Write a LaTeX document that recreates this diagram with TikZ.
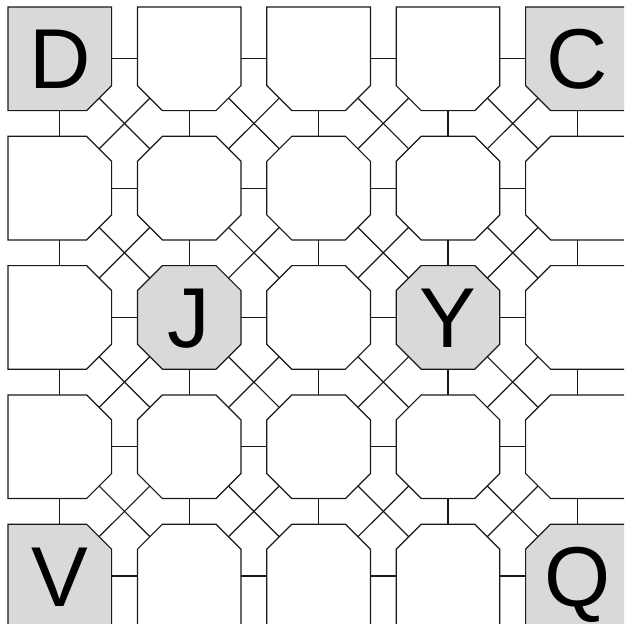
\documentclass[tikz,border=0pt]{standalone}
\usepackage{fontspec}
\setmainfont{Liberation Sans}
\usetikzlibrary{calc}
\begin{document}
\begin{tikzpicture}[x=1pt,y=-1pt,
  link/.style={draw=black!90,line width=1.2pt},
  cellbox/.style={draw=black!90,line width=1.2pt,fill=white,line join=miter},
  markcell/.style={cellbox,fill=gray!30},
  letter/.style={font=\fontsize{85}{85}\selectfont,anchor=base,inner sep=0pt,text=black}]
\useasboundingbox (0,0) rectangle (624,624);
\clip (0,0) rectangle (624,624);
\def\hh{51.8}
\def\cc{25}
% centre coordinates
\foreach \i in {0,...,4}{
  \foreach \j in {0,...,4}{
    \coordinate (p-\i-\j) at ({59.8+129.4*\i},{58.8+129.3*\j});
  }
}
% connectors (orthogonal)
\foreach \i in {0,...,3}{
  \foreach \j in {0,...,4}{
    \pgfmathtruncatemacro{\ni}{\i+1}
    \draw[link] (p-\i-\j) -- (p-\ni-\j);
    \draw[link] (p-\j-\i) -- (p-\j-\ni);
  }
}
% connectors (diagonal)
\foreach \i in {0,...,3}{
  \foreach \j in {0,...,3}{
    \pgfmathtruncatemacro{\ni}{\i+1}
    \pgfmathtruncatemacro{\nj}{\j+1}
    \draw[link] (p-\i-\j) -- (p-\ni-\nj);
    \draw[link] (p-\ni-\j) -- (p-\i-\nj);
  }
}
% cells
\foreach \i in {0,...,4}{
  \foreach \j in {0,...,4}{
    \pgfmathsetmacro{\tl}{(\i>0 && \j>0) ? \cc : 0}
    \pgfmathsetmacro{\tr}{(\i<4 && \j>0) ? \cc : 0}
    \pgfmathsetmacro{\br}{(\i<4 && \j<4) ? \cc : 0}
    \pgfmathsetmacro{\bl}{(\i>0 && \j<4) ? \cc : 0}
    \pgfmathtruncatemacro{\mk}{((\i==0||\i==4)&&(\j==0||\j==4)) || (\j==2 && (\i==1||\i==3)) ? 1 : 0}
    \ifnum\mk=1 \def\cs{markcell}\else\def\cs{cellbox}\fi
    \draw[\cs] ($(p-\i-\j)+(-\hh+\tl,-\hh)$) -- ($(p-\i-\j)+(\hh-\tr,-\hh)$)
      -- ($(p-\i-\j)+(\hh,-\hh+\tr)$) -- ($(p-\i-\j)+(\hh,\hh-\br)$)
      -- ($(p-\i-\j)+(\hh-\br,\hh)$) -- ($(p-\i-\j)+(-\hh+\bl,\hh)$)
      -- ($(p-\i-\j)+(-\hh,\hh-\bl)$) -- ($(p-\i-\j)+(-\hh,-\hh+\tl)$) -- cycle;
  }
}
% labels
\node[letter] (lD) at ($(p-0-0)+(0,30)$) {D};
\node[letter] (lC) at ($(p-4-0)+(0,30)$) {C};
\node[letter] (lJ) at ($(p-1-2)+(0,30)$) {J};
\node[letter] (lY) at ($(p-3-2)+(0,30)$) {Y};
\node[letter] (lV) at ($(p-0-4)+(0,30)$) {V};
\node[letter] (lQ) at ($(p-4-4)+(0,30)$) {Q};
\end{tikzpicture}
\end{document}
